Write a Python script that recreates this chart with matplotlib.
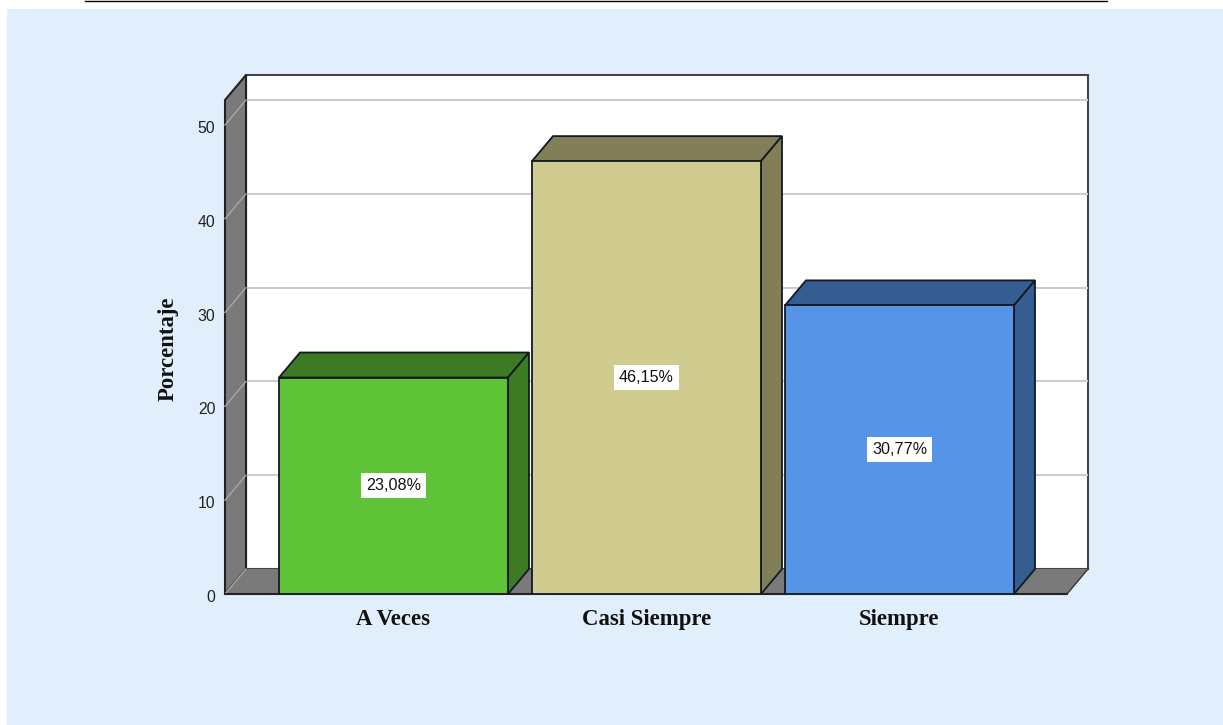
import matplotlib
matplotlib.use('Agg')
import matplotlib.pyplot as plt
from matplotlib.patches import Polygon, Rectangle
from matplotlib.lines import Line2D
from matplotlib.transforms import ScaledTranslation

# data
categories = ['A Veces', 'Casi Siempre', 'Siempre']
percentages = [23.08, 46.15, 30.77]
value_labels = ['23,08%', '46,15%', '30,77%']
y_ticks = [0, 10, 20, 30, 40, 50]

front_colors = ['#5FC338', '#D0CB8F', '#5594E6']
top_colors = ['#3C7B23', '#827E58', '#355D92']
wall_color = '#7A7A7A'
grid_color = '#CCCCCC'
edge_color = '#111A22'

# pixel layout of the original
W = 1223.; H = 725.
LEFT = 225.; RIGHT = 1088.; TOP = 75.; BOTTOM = 594.
SPACING = 253.; FIRST_CENTER = 393.5; BAR_PX = 229.
PX_PER_UNIT = 9.38
DEPTH_X_PX = 21.; DEPTH_Y_PX = 25.

fig = plt.figure(figsize=[W/100, H/100], dpi=100, facecolor='white')

# page panel and rule on top, behind the axes
fig.add_artist(Rectangle((7/W, 0), 1-7/W, 1-9/H, transform=fig.transFigure,
                         facecolor='#E1EEFB', edgecolor='none', zorder=-2))
fig.add_artist(Line2D([85/W, 1107/W], [1-1.2/H, 1-1.2/H], transform=fig.transFigure,
                      color='black', lw=1.0, zorder=-1))

ax = fig.add_axes([LEFT/W, 1-BOTTOM/H, (RIGHT-LEFT)/W, (BOTTOM-TOP)/H])
ax.patch.set_visible(False)
ax.set_xlim((LEFT-FIRST_CENTER)/SPACING, (RIGHT-FIRST_CENTER)/SPACING)
ax.set_ylim(0, (BOTTOM-TOP)/PX_PER_UNIT)
for s in ax.spines.values():
    s.set_visible(False)

dx = DEPTH_X_PX/SPACING
dy = DEPTH_Y_PX/PX_PER_UNIT
bar_w = BAR_PX/SPACING
x0, x1 = ax.get_xlim()
y1 = ax.get_ylim()[1]
front_right = x1-dx
front_top = y1-dy

# back wall, side wall, floor
ax.add_patch(Polygon([(x0+dx, dy), (x1, dy), (x1, y1), (x0+dx, y1)], closed=True,
                     facecolor='white', edgecolor='#444444', lw=1.5, zorder=1, clip_on=False))
ax.add_patch(Polygon([(x0, 0), (x0+dx, dy), (x0+dx, y1), (x0, front_top)], closed=True,
                     facecolor=wall_color, edgecolor='#222222', lw=1.5, zorder=2, clip_on=False))
ax.add_patch(Polygon([(x0, 0), (front_right, 0), (x1, dy), (x0+dx, dy)], closed=True,
                     facecolor=wall_color, edgecolor='none', zorder=2, clip_on=False))
ax.plot([x0, front_right], [0, 0], color='#222222', lw=1.5, zorder=3, clip_on=False)
ax.plot([front_right, x1], [0, dy], color='#333333', lw=1, zorder=3, clip_on=False)

# grid on back wall and side wall
for t in y_ticks:
    if t > 0:
        ax.plot([x0+dx, x1], [t+dy, t+dy], color=grid_color, lw=1.5, zorder=1.5)
    ax.plot([x0, x0+dx], [t, t+dy], color='#A8A8A8', lw=1, zorder=2.5, clip_on=False)

# 3d bars
for i, v in enumerate(percentages):
    l = i-bar_w/2
    r = i+bar_w/2
    ax.add_patch(Polygon([(l, v), (r, v), (r+dx, v+dy), (l+dx, v+dy)], closed=True,
                         facecolor=top_colors[i], edgecolor=edge_color, lw=1.3, zorder=4))
    ax.add_patch(Polygon([(r, 0), (r+dx, dy), (r+dx, v+dy), (r, v)], closed=True,
                         facecolor=top_colors[i], edgecolor=edge_color, lw=1.3, zorder=4))
    ax.add_patch(Rectangle((l, 0), bar_w, v, facecolor=front_colors[i],
                           edgecolor=edge_color, lw=1.3, zorder=5))
    ax.text(i, v/2, value_labels[i], ha='center', va='center', fontsize=11.6,
            family='Liberation Sans', color='#111111', zorder=6,
            bbox=dict(facecolor='white', edgecolor='none', pad=3.5))

ax.set_yticks(y_ticks)
ax.set_yticklabels([str(t) for t in y_ticks], fontsize=11.3, family='Liberation Sans', color='#222222')
ax.tick_params(axis='y', length=0, pad=7)
# labels sit a little under their gridline in the original
shift_down = ScaledTranslation(0, -2/100, fig.dpi_scale_trans)
for lab in ax.get_yticklabels():
    lab.set_transform(lab.get_transform()+shift_down)
ax.set_xticks(range(len(categories)))
ax.set_xticklabels(categories, fontsize=16.4, family='Liberation Serif', fontweight='bold', color='#111111')
ax.tick_params(axis='x', length=0, pad=10.5)
ax.set_ylabel('Porcentaje', fontsize=16.4, family='Liberation Serif', fontweight='bold', color='#111111')
ax.yaxis.set_label_coords((179-LEFT)/(RIGHT-LEFT), (BOTTOM-348.5)/(BOTTOM-TOP))

fig.savefig('out.png', dpi=100)
